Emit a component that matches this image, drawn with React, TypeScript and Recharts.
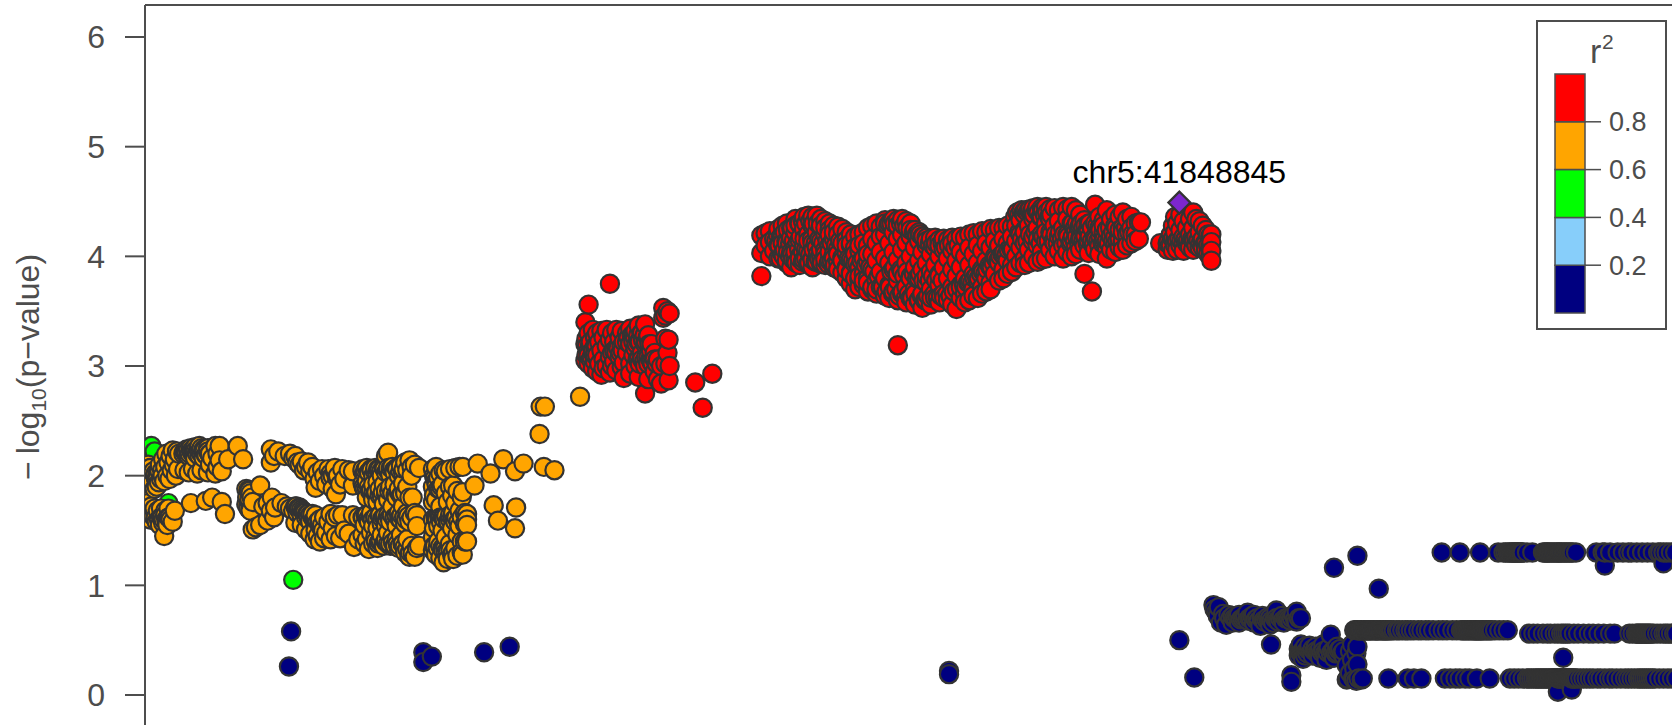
import { Bar, BarChart, Label, ReferenceLine, Scatter, ScatterChart, XAxis, YAxis } from "recharts";

// every row is [position, p, p, ...], position counted from the left edge of the frame
const greenRows = [
    [3, 2.2], [6, 2.27], [9, 2.22], [22, 1.75], [139, 1.05],
];

const orangeLeftRows = [
    [0, 1.95, 1.65], [1, 2.05, 1.72], [2, 1.9, 1.62], [3, 2.1, 1.75], [4, 2.0, 1.68], [5, 2.07, 1.6], [6, 1.92, 1.72], [8, 2.04, 1.63],
    [9, 1.88, 1.7], [10, 1.98, 1.62], [11, 1.9, 1.58], [12, 2.02, 1.68], [13, 1.94, 1.6], [14, 2.1, 1.55], [15, 1.97, 1.7], [16, 2.05, 1.62],
    [17, 2.15, 1.57], [18, 1.95, 1.45], [19, 2.08, 1.68], [20, 2.2, 1.6], [21, 2.0, 1.55], [22, 2.12, 1.7], [23, 1.97, 1.62], [24, 2.18, 1.6],
    [25, 2.05], [26, 2.23, 1.58], [27, 2.1], [28, 2.15, 1.68], [29, 2.0], [30, 2.22], [31, 2.06], [32, 2.2],
    [37, 2.22, 2.05], [39, 2.24, 2.2], [41, 2.18, 2.03], [43, 2.25, 1.75], [45, 2.2, 2.06], [47, 2.26, 2.16], [49, 2.21, 2.02],
    [51, 2.27, 2.18], [53, 2.2, 2.05], [55, 2.24, 2.16], [57, 2.19, 1.77], [59, 2.25, 2.03], [61, 2.2, 2.1], [63, 2.16, 1.8],
    [66, 2.27, 2.02], [68, 2.2, 2.08], [70, 2.27, 2.14], [72, 2.04, 1.76], [75, 1.65], [78, 2.15], [87, 2.27], [92, 2.15],
];

// tightly packed stretches, these are what makes the clusters read as dark
const orangeDenseRows = [
    [10, 2.02], [12, 1.98], [13.5, 2.04], [15, 1.62], [16.5, 2.0], [17.5, 1.6], [19, 1.64], [20.5, 1.58], [22, 1.62],
    [36, 2.2], [37.5, 2.22], [39, 2.21], [40.5, 2.23], [42, 2.2], [43.5, 2.22], [45, 2.24], [46, 2.21], [47.5, 2.23], [49, 2.2], [50, 2.24], [51.5, 2.22], [53, 2.25], [54.5, 2.21], [56, 2.23], [57.5, 2.19], [59, 2.22], [60.5, 2.2],
    [96, 1.8], [97, 1.74], [98, 1.86], [99, 1.7], [100, 1.8], [101, 1.76],
    [142, 1.72], [143.5, 1.7], [145, 1.71], [146.5, 1.69], [148, 1.68], [150, 1.66], [152, 1.65], [153.5, 1.62], [155, 1.64], [157, 1.62], [158.5, 1.6], [160, 1.61], [162, 1.58], [164, 1.56], [165.5, 1.52], [167, 1.5],
    [174, 2.02], [176, 2.0], [178, 2.04], [180, 1.98],
    [204, 2.04], [205, 1.9], [206.5, 2.05], [208, 1.88], [209.5, 2.03], [211, 1.86], [212.5, 2.05], [214, 1.84], [215.5, 2.04], [217, 1.85], [218.5, 2.06], [220, 1.82], [221.5, 2.04], [223, 1.85], [224.5, 2.06], [226, 1.83],
    [227.5, 2.05], [229, 1.86], [230.5, 2.07], [232, 1.84], [233.5, 2.05], [235, 1.82], [236.5, 2.06], [238, 1.85], [239.5, 2.04], [241, 1.83], [242.5, 2.06], [244, 1.85],
    [204.5, 1.62], [207, 1.64], [209, 1.6], [211.5, 1.63], [213.5, 1.6], [216, 1.62], [218, 1.6], [220.5, 1.64], [222.5, 1.61], [225, 1.63], [227, 1.6], [229.5, 1.62], [231.5, 1.64], [234, 1.6], [236, 1.63], [238.5, 1.61], [240.5, 1.64], [243, 1.62], [245, 1.6], [247, 1.63],
    [216.5, 1.4], [219, 1.38], [221, 1.41], [223.5, 1.37], [225.5, 1.4], [228, 1.38], [230, 1.36], [232.5, 1.39], [234.5, 1.36], [237, 1.38], [239, 1.36], [241.5, 1.38], [243.5, 1.35], [246, 1.33], [248.5, 1.3],
    [272, 1.98], [273.5, 1.92], [275, 1.98], [276.5, 1.88], [278, 1.9],
    [272.5, 1.62], [274, 1.6], [276, 1.63], [277.5, 1.58], [279, 1.62], [281, 1.6], [282.5, 1.63], [284.5, 1.58], [286, 1.6], [288, 1.63], [290, 1.6], [292, 1.62], [294, 1.58],
    [272, 1.36], [274.5, 1.34], [277, 1.36], [279.5, 1.32], [281.5, 1.34], [284, 1.3], [286.5, 1.32], [289, 1.3],
];

const orangeMidRows = [
    [95, 1.88, 1.74], [96, 1.8], [97, 1.87, 1.7], [98, 1.78], [99, 1.84, 1.68], [101, 1.51], [104, 1.53], [108, 1.91, 1.55], [111, 1.72], [115, 1.59, 1.75],
    [118, 2.24, 2.12, 1.68], [119, 1.8], [121, 2.18, 1.62], [122, 1.71], [125, 2.22], [128, 1.75], [131, 2.18], [133, 1.72], [136, 2.2, 1.7], [139, 2.16, 1.68],
    [141, 2.18, 1.72, 1.57], [143, 2.12, 1.66], [145, 2.1, 1.7], [147, 2.13, 1.63, 1.55], [149, 2.05, 1.67], [151, 2.08, 1.51, 1.62], [153, 2.12, 1.65],
    [155, 2.04, 1.58, 1.47], [157, 2.08, 1.65], [159, 1.97, 1.6, 1.42], [160, 1.89, 1.64, 1.5], [162, 2.03, 1.45], [164, 1.95, 1.6, 1.4], [166, 2.06, 1.55],
    [168, 2.0, 1.62, 1.43], [170, 1.92, 1.48], [172, 2.06, 1.58], [174, 1.98, 1.65, 1.42], [176, 1.88, 1.52], [178, 2.07, 1.62], [179, 1.83, 1.45],
    [181, 2.0, 1.64], [183, 1.92, 1.43], [185, 2.06, 1.64], [187, 1.97, 1.5], [191, 1.47, 2.05], [195, 1.91, 2.04, 1.64], [196, 1.35], [200, 1.62, 1.42],
];

const orangeBlobRows = [
    [204, 2.06, 1.93, 1.62, 1.46], [206, 2.02, 1.88, 1.55, 1.38], [208, 2.07, 1.95, 1.8, 1.64, 1.42], [210, 2.03, 1.9, 1.58, 1.33], [212, 2.06, 1.86, 1.66, 1.48],
    [214, 2.0, 1.92, 1.78, 1.54, 1.38], [216, 2.07, 1.84, 1.62, 1.44], [218, 2.02, 1.94, 1.76, 1.52, 1.34], [220, 2.06, 1.88, 1.64, 1.4], [222, 2.0, 1.82, 1.56, 1.46],
    [224, 2.08, 1.92, 1.74, 1.62, 1.36], [226, 2.18, 2.03, 1.86, 1.54, 1.42], [228, 2.21, 2.07, 1.78, 1.64, 1.48], [230, 2.01, 1.9, 1.58, 1.38], [232, 2.08, 1.84, 1.72, 1.44],
    [234, 2.03, 1.92, 1.62, 1.36], [236, 2.07, 1.8, 1.54, 1.42], [238, 2.0, 1.88, 1.66, 1.34], [240, 2.09, 1.82, 1.6, 1.46], [242, 2.03, 1.93, 1.72, 1.38],
    [244, 2.12, 1.84, 1.56, 1.3], [246, 2.05, 1.9, 1.66, 1.42], [248, 2.14, 1.8, 1.58, 1.26], [250, 2.08, 2.0, 1.62, 1.36], [251, 1.8, 1.29],
    [253, 2.1, 1.66, 1.26], [255, 1.64, 1.54, 1.34], [257, 2.07, 1.36],
];

const orangeRightRows = [
    [270, 2.06, 1.9, 1.76, 1.6, 1.44, 1.32], [271, 2.0, 1.82, 1.52, 1.36], [273, 2.08, 1.95, 1.78, 1.61, 1.28], [275, 1.88, 1.54, 1.4], [277, 2.02, 1.72, 1.62, 1.25],
    [279, 1.92, 1.5, 1.34], [280, 2.05, 1.62, 1.21], [282, 2.04, 1.84, 1.44, 1.3], [284, 1.76, 1.58, 1.24], [286, 2.06, 1.9, 1.64, 1.38], [288, 1.82, 1.52, 1.28],
    [289, 1.91, 1.66, 1.24], [291, 2.07, 1.75, 1.58, 1.34], [293, 1.86, 1.46, 1.27], [295, 2.08, 1.68, 1.54], [297, 1.8, 1.62, 1.4, 1.3], [298, 2.08, 1.85, 1.28],
    [300, 1.66, 1.56, 1.4], [302, 1.65, 1.6, 1.55, 1.4], [309, 1.91],
    [312, 2.11], [324, 2.02], [327, 1.73], [331, 1.59], [336, 2.15], [347, 2.04, 1.52], [348, 1.71], [355, 2.11],
    [370, 2.38], [371, 2.63], [374, 2.08], [375, 2.63], [384, 2.05], [408, 2.72],
];

const redMiddleRows = [
    [413, 3.4, 3.2, 3.05], [414, 3.25, 3.1], [416, 3.56, 3.3, 3.14, 3.02], [418, 3.22, 3.06], [420, 3.33, 3.12, 2.98], [422, 3.26, 3.18, 3.04],
    [424, 3.3, 3.1, 2.95], [426, 3.22, 3.02], [428, 3.32, 3.14, 2.92], [430, 3.26, 3.06, 2.98], [433, 3.33, 3.18, 3.0], [436, 3.75, 3.24, 3.08, 2.94],
    [438, 3.3, 3.12, 3.0], [440, 3.22, 3.04], [442, 3.33, 3.16, 2.96], [445, 3.26, 3.08], [447, 3.32, 3.18, 2.99], [449, 3.22, 3.03, 2.89],
    [452, 3.3, 3.12], [455, 3.34, 3.2, 3.02, 2.93], [458, 3.28, 3.1], [460, 3.32, 3.16, 3.0], [463, 3.37, 3.22, 3.06, 2.9], [466, 3.3, 3.12],
    [469, 3.38, 3.2, 3.0, 2.75], [472, 3.28, 3.08, 2.88], [475, 3.2, 3.04], [478, 3.12, 2.95], [481, 3.06, 2.88], [484, 3.0, 2.84],
    [486, 3.53, 3.44], [488, 3.25, 3.46, 3.02], [490, 3.5, 3.12], [491, 3.24, 2.87], [492, 3.48, 3.0], [516, 2.85], [523, 2.62], [532, 2.93],
];

const redMiddleDenseRows = [
    [414.5, 3.18], [416, 3.1], [417.5, 3.2], [419, 3.08], [420.5, 3.15], [422, 3.1], [423.5, 3.18],
    [440, 3.14], [442, 3.12], [444, 3.16], [446, 3.12], [448, 3.14],
    [452, 3.22], [453.5, 3.26], [455, 3.2], [456.5, 3.28], [458, 3.22], [459.5, 3.26], [461, 3.2], [462.5, 3.28], [464, 3.22], [465.5, 3.3], [467, 3.24], [468.5, 3.28], [470, 3.22], [471.5, 3.26], [473, 3.2], [474.5, 3.14],
    [462, 3.06], [464, 3.02], [466, 3.06], [468, 3.04], [470, 3.08], [472, 3.02], [474, 3.06], [476, 3.02], [478, 3.06], [480, 3.02],
];

const redMainRows = [
    [578, 4.19, 4.03, 3.82], [582, 4.21, 4.1], [586, 4.23, 4.13, 4.0], [590, 4.16, 4.05], [594, 4.25, 4.1, 3.98], [598, 4.28, 4.19, 4.02], [602, 4.3, 4.12, 3.94],
    [606, 4.26, 4.17, 4.04, 3.9], [610, 4.34, 4.22, 4.08, 3.96], [614, 4.3, 4.15, 4.0, 3.92], [618, 4.36, 4.25, 4.1, 3.97], [622, 4.37, 4.2, 4.05, 3.93],
    [626, 4.36, 4.28, 4.12, 3.98, 3.9], [630, 4.37, 4.22, 4.08, 3.95], [634, 4.34, 4.27, 4.14, 4.0, 3.93], [638, 4.32, 4.2, 4.06, 3.92], [642, 4.3, 4.24, 4.1, 3.96],
    [646, 4.28, 4.16, 4.02, 3.9], [650, 4.27, 4.2, 4.07, 3.95, 3.88], [654, 4.25, 4.12, 3.99, 3.85], [658, 4.22, 4.15, 4.03, 3.9, 3.8], [662, 4.2, 4.1, 3.97, 3.85, 3.75],
    [666, 4.18, 4.08, 3.93, 3.8, 3.7], [670, 4.2, 4.05, 3.9, 3.78, 3.72], [674, 4.22, 4.12, 3.98, 3.84, 3.74], [678, 4.26, 4.1, 3.95, 3.8, 3.68], [682, 4.28, 4.16, 4.02, 3.88, 3.7],
    [686, 4.3, 4.12, 3.96, 3.78, 3.66], [690, 4.27, 4.18, 4.04, 3.86, 3.72], [694, 4.33, 4.2, 3.98, 3.8, 3.64], [698, 4.3, 4.12, 3.94, 3.74, 3.62], [702, 4.34, 4.22, 4.04, 3.88, 3.68],
    [706, 4.33, 4.16, 3.97, 3.78, 3.6, 3.19], [710, 4.34, 4.2, 4.06, 3.86, 3.66], [714, 4.32, 4.12, 3.94, 3.72, 3.58], [718, 4.3, 4.18, 4.0, 3.82, 3.62], [722, 4.24, 4.08, 3.9, 3.7, 3.56],
    [726, 4.22, 4.14, 3.96, 3.8, 3.6], [729, 4.18, 4.04, 3.88, 3.66, 3.53], [733, 4.17, 4.1, 3.94, 3.76, 3.6], [737, 4.16, 4.02, 3.86, 3.7, 3.56], [741, 4.17, 4.08, 3.92, 3.62],
    [745, 4.15, 4.0, 3.84, 3.74, 3.58], [749, 4.16, 4.06, 3.9, 3.66], [753, 4.15, 3.98, 3.8, 3.6], [757, 4.17, 4.05, 3.88, 3.72, 3.56], [761, 4.16, 3.96, 3.82, 3.52],
    [765, 4.18, 4.04, 3.9, 3.74, 3.62], [769, 4.17, 4.0, 3.8, 3.66, 3.58], [773, 4.2, 4.08, 3.92, 3.76, 3.6], [777, 4.21, 4.02, 3.84, 3.7, 3.64], [781, 4.2, 4.1, 3.94, 3.78, 3.62],
    [785, 4.23, 4.05, 3.88, 3.72, 3.66], [789, 4.22, 4.12, 3.96, 3.8, 3.68], [793, 4.25, 4.08, 3.9, 3.76, 3.7], [797, 4.24, 4.14, 4.0, 3.84], [801, 4.26, 4.1, 3.94, 3.78],
    [805, 4.26, 4.16, 4.02, 3.88, 3.8], [809, 4.28, 4.12, 3.96, 3.84], [813, 4.27, 4.18, 4.06, 3.92, 3.86], [817, 4.28, 4.14, 4.0, 3.9], [821, 4.33, 4.2, 4.08, 3.94],
    [825, 4.38, 4.24, 4.12, 3.98, 3.92], [829, 4.42, 4.28, 4.06, 3.94], [833, 4.44, 4.34, 4.18, 4.0], [837, 4.45, 4.26, 4.1, 3.95], [841, 4.44, 4.36, 4.2, 4.04, 3.97],
    [845, 4.45, 4.3, 4.14, 3.98], [849, 4.43, 4.34, 4.22, 4.06], [853, 4.44, 4.28, 4.12, 4.0], [857, 4.42, 4.32, 4.18, 4.05], [861, 4.45, 4.26, 4.1, 3.98],
    [865, 4.43, 4.34, 4.2, 4.04], [869, 4.45, 4.3, 4.14, 4.0], [873, 4.42, 4.22, 4.08, 4.02], [877, 4.38, 4.28, 4.16, 4.06], [881, 4.33, 4.2, 4.1, 3.84],
    [885, 4.3, 4.24, 4.14, 4.03], [888, 4.26, 4.12, 3.68], [891, 4.47, 4.3, 4.18, 4.06], [895, 4.36, 4.26, 4.1, 4.02], [899, 4.33, 4.22, 4.14], [902, 4.42, 4.24, 4.08, 3.98],
    [906, 4.34, 4.18, 4.06], [910, 4.38, 4.28, 4.12, 4.04], [914, 4.36, 4.2, 4.08], [917, 4.4, 4.26, 4.14, 4.06], [921, 4.34, 4.2, 4.1], [925, 4.36, 4.26, 4.12],
    [929, 4.3, 4.2, 4.14], [932, 4.31, 4.16], [934, 4.31],
];

const redMainDenseRows = [
    [592, 4.14], [593.5, 4.2], [595, 4.1], [596.5, 4.18], [598, 4.12], [600, 4.22, 4.06], [601.5, 4.14], [603, 4.24, 4.04], [605, 4.12], [607, 4.26, 4.02], [608.5, 4.14], [610, 4.28, 4.04], [612, 4.12],
    [613.5, 4.3, 4.06], [615, 4.18], [617, 4.32, 4.04], [618.5, 4.16], [620, 4.3, 4.06], [622, 4.14], [624, 4.32, 4.02], [625.5, 4.16], [627, 4.3, 4.06], [629, 4.12], [631, 4.3, 4.02], [632.5, 4.16],
    [634, 4.28, 4.06], [636, 4.12], [638, 4.26, 4.02], [640, 4.14], [642, 4.2, 4.04], [644, 4.12], [646, 4.22, 3.98], [648, 4.1], [650, 4.02], [652, 4.14], [654, 3.96],
    [658, 4.1, 3.88], [660, 3.98], [662, 4.12, 3.84], [664, 3.96], [666, 4.02, 3.8], [668, 3.94], [670, 4.1, 3.82], [672, 3.96], [674, 3.78], [676, 3.92], [678, 4.02, 3.76], [680, 3.9], [682, 3.72], [684, 3.86], [686, 3.7], [688, 3.82],
    [692, 3.72], [694, 4.3], [695.5, 3.68], [697, 4.28], [698.5, 3.72], [700, 4.3], [701.5, 3.66], [703, 4.3], [704.5, 3.7], [706, 4.28], [707.5, 3.64], [709, 4.3], [710.5, 3.68], [712, 4.28], [713.5, 3.62], [715, 4.26], [716.5, 3.66], [718, 4.24], [719.5, 3.62], [721, 4.22], [722.5, 3.66], [724, 4.2], [725.5, 3.6], [727, 4.2], [728.5, 3.64], [730, 4.18], [731.5, 3.6],
    [733, 4.14], [734.5, 3.64], [736, 4.12], [737.5, 3.62], [739, 4.1], [740.5, 3.66], [742, 4.12], [743.5, 3.62], [745, 4.1], [746.5, 3.64], [748, 4.12], [749.5, 3.62], [751, 4.08], [752.5, 3.66], [754, 4.1], [755.5, 3.64], [757, 4.12], [758.5, 3.68], [760, 4.08], [761.5, 3.7], [763, 4.1], [765, 3.72],
    [768, 3.74], [770, 3.72], [772, 3.76], [774, 3.78], [776, 3.76], [778, 3.8], [780, 3.82], [782, 3.8], [784, 3.84], [786, 3.86], [788, 3.84], [790, 3.88], [792, 3.92], [794, 3.9], [796, 3.94], [798, 3.98], [800, 3.96], [802, 4.0], [804, 4.02], [806, 4.04], [808, 4.02], [810, 4.06], [812, 4.08], [814, 4.06],
    [816, 4.36], [818, 4.4], [820, 4.38], [822, 4.42], [824, 4.4], [826, 4.42], [828, 4.4], [830, 4.43], [832, 4.41], [834, 4.38], [836, 4.42], [838, 4.4], [840, 4.36], [842, 4.42], [844, 4.38], [846, 4.4], [848, 4.36], [850, 4.38],
    [852, 4.14], [854, 4.2], [856, 4.12], [858, 4.22], [860, 4.16], [862, 4.2], [864, 4.12], [866, 4.18], [868, 4.12], [870, 4.18], [872, 4.14], [874, 4.18], [876, 4.12], [878, 4.16], [880, 4.14], [882, 4.18], [884, 4.12], [886, 4.18], [888, 4.14], [890, 4.12], [892, 4.16], [894, 4.14], [896, 4.18], [898, 4.12], [900, 4.16], [902, 4.14], [904, 4.12], [906, 4.18], [908, 4.14], [910, 4.18], [912, 4.14], [914, 4.16],
    [960, 4.14], [962, 4.12], [964, 4.16], [966, 4.14], [968, 4.12], [970, 4.16], [972, 4.14], [974, 4.12], [976, 4.16], [978, 4.14], [980, 4.12], [982, 4.16], [984, 4.14], [986, 4.12], [988, 4.15], [990, 4.12], [992, 4.14], [994, 4.12],
];

// second pass over the parts of the ridge that are still too red
const redRidgeRows = [
    [596, 3.98], [599, 4.0], [602, 3.96], [605, 4.0], [608, 3.97], [611, 3.94], [614, 3.98], [617, 3.95], [620, 3.98], [623, 3.94], [626, 3.97], [629, 3.95], [632, 3.98], [635, 3.94], [638, 3.97], [641, 3.93], [644, 3.96], [647, 3.92],
    [700, 3.86], [703, 3.9], [706, 3.84], [709, 3.88], [712, 3.82], [715, 3.86], [718, 3.8], [721, 3.84], [724, 3.8], [727, 3.84], [730, 3.78], [733, 3.82], [736, 3.78], [739, 3.82], [742, 3.78], [745, 3.82], [748, 3.78],
    [820, 4.22], [822.5, 4.16], [825, 4.22], [827.5, 4.14], [830, 4.2], [832.5, 4.14], [835, 4.22], [837.5, 4.16], [840, 4.12], [842.5, 4.18], [845, 4.22], [847.5, 4.14], [850, 4.2],
    [870, 4.3], [872, 4.26], [874, 4.3], [876, 4.26], [878, 4.3], [880, 4.26], [882, 4.28], [884, 4.24], [886, 4.3], [888, 4.26], [893, 4.28], [896, 4.24], [899, 4.28], [902, 4.24], [905, 4.26], [908, 4.22], [911, 4.26], [914, 4.24], [917, 4.22], [920, 4.26], [923, 4.22], [926, 4.2],
];

const redPeakRows = [
    [952, 4.12], [959, 4.06, 4.12], [962, 4.2, 4.1], [964, 4.28, 4.16, 4.05], [966, 4.36, 4.22, 4.1], [968, 4.3, 4.14, 4.06], [971, 4.38, 4.24, 4.1],
    [974, 4.32, 4.18, 4.05], [977, 4.26, 4.12], [980, 4.34, 4.2, 4.08], [983, 4.4, 4.26, 4.14, 4.06], [986, 4.34, 4.18, 4.1], [989, 4.32, 4.22, 4.08],
    [992, 4.28, 4.16, 4.08], [995, 4.24, 4.12, 4.06], [997, 4.2, 4.1, 4.02], [999, 4.18, 4.08, 4.0], [1000, 4.2, 4.13, 4.05, 3.96],
];

const leadPoint = [{ pos: 970, p: 4.49, name: "chr5:41848845" }];

const navyIsolatedRows = [
    [135, 0.26], [137, 0.58], [261, 0.39, 0.3], [269, 0.35], [318, 0.39], [342, 0.44], [754, 0.22, 0.19], [970, 0.5], [984, 0.16],
    [1056, 0.46], [1075, 0.18, 0.12], [1115, 1.16], [1137, 1.27], [1157, 0.97], [1330, 0.34], [1325, 0.03], [1338, 0.05], [1369, 1.18], [1424, 1.2],
];

const navyUpperClusterRows = [
    [1002, 0.82], [1003, 0.78], [1005, 0.76], [1006, 0.72], [1007, 0.8], [1009, 0.66], [1011, 0.74], [1012, 0.7], [1014, 0.64], [1016, 0.73], [1018, 0.7],
    [1020, 0.66, 0.72], [1021.5, 0.7], [1023, 0.7], [1024.5, 0.72], [1026, 0.73, 0.66], [1027.5, 0.69], [1029, 0.7], [1030.5, 0.71], [1032, 0.72], [1034, 0.75, 0.68], [1035.5, 0.7], [1037, 0.7], [1038.5, 0.72], [1040, 0.66, 0.73], [1041.5, 0.69], [1043, 0.7], [1044.5, 0.68], [1046, 0.63],
    [1047, 0.7], [1048, 0.72], [1049, 0.68], [1050, 0.67], [1051.5, 0.69], [1053, 0.71], [1054, 0.68], [1055, 0.64, 0.7], [1056.5, 0.68], [1058, 0.66], [1059.5, 0.7], [1061, 0.77, 0.7], [1062, 0.68], [1063, 0.67], [1064.5, 0.7], [1066, 0.72], [1067, 0.68], [1068, 0.66], [1069.5, 0.7], [1071, 0.7], [1072.5, 0.69], [1074, 0.68], [1075.5, 0.7],
    [1077, 0.73], [1078.5, 0.69], [1080, 0.76, 0.67], [1082, 0.7], [1084, 0.7],
];

const navyLowerClusterRows = [
    [1082, 0.42, 0.36], [1083, 0.39], [1084, 0.46, 0.38], [1085, 0.4], [1086, 0.4, 0.33], [1087, 0.38], [1088, 0.44, 0.36], [1089, 0.4], [1090, 0.38], [1091, 0.41], [1092, 0.41, 0.45], [1093.5, 0.39], [1095, 0.36, 0.42], [1096.5, 0.4], [1098, 0.44, 0.4], [1099, 0.38], [1100, 0.38],
    [1101, 0.4], [1102, 0.42, 0.34], [1103.5, 0.39], [1105, 0.46, 0.4], [1106.5, 0.38], [1108, 0.4, 0.32], [1109, 0.39], [1110, 0.43], [1112, 0.55, 0.38], [1113.5, 0.4], [1115, 0.41, 0.34], [1116.5, 0.38], [1118, 0.39, 0.44], [1119.5, 0.41], [1121, 0.42], [1122.5, 0.38], [1124, 0.36, 0.4],
    [1127, 0.27, 0.14], [1130, 0.4, 0.2], [1132, 0.46, 0.32], [1134, 0.24, 0.14], [1136, 0.38, 0.13], [1137, 0.44, 0.28], [1141, 0.14],
];

// three long rows on the right side of the frame
const navyTopPos = [
    1216, 1233, 1252, 1269, 1274, 1276, 1278, 1279.5, 1281, 1282, 1283, 1284, 1285, 1286, 1287, 1288, 1289, 1290, 1291, 1292, 1296, 1301, 1311, 1312.5, 1314, 1315, 1316, 1317.5, 1319, 1320.5, 1322, 1323.5, 1325, 1326, 1327, 1328.5, 1330, 1331.5, 1333, 1334.5, 1336, 1337.5, 1339, 1342,
    1361, 1367, 1369, 1374, 1381, 1386, 1391, 1394, 1399, 1404, 1409, 1414, 1419, 1421, 1424, 1427, 1431, 1435,
];
const navyMidLeftPos = [
    1134, 1135.5, 1137, 1138, 1139, 1140, 1141, 1142.5, 1144, 1145, 1146, 1147, 1148, 1149, 1150, 1151.5, 1153, 1154, 1155, 1156, 1157, 1158.5, 1160, 1161, 1162, 1163, 1164, 1165, 1166, 1167.5, 1169, 1171, 1174, 1176, 1179, 1182, 1184, 1187, 1190, 1194,
    1197, 1201, 1204, 1208, 1213, 1217, 1221, 1226, 1230, 1234, 1235.5, 1237, 1238.5, 1240, 1241.5, 1243, 1244.5, 1246, 1247, 1248, 1249, 1250, 1251, 1252, 1253, 1254, 1255.5, 1257, 1258.5, 1260, 1261.5, 1263, 1266, 1270, 1274, 1278,
];
const navyMidRightPos = [
    1298, 1302, 1306, 1311, 1315, 1318, 1322, 1325, 1328, 1330, 1332, 1334, 1336, 1340, 1344, 1349, 1354, 1358, 1363, 1368, 1374, 1378,
    1392, 1395, 1398, 1399, 1400, 1401, 1402, 1403, 1404, 1405, 1406, 1407, 1408, 1409, 1410, 1411, 1412, 1413.5, 1415, 1418, 1421, 1424, 1426, 1428, 1431, 1434, 1436,
];
const navyBottomPos = [
    1128, 1133, 1138, 1142, 1166, 1184, 1190, 1197, 1219, 1224, 1229, 1233, 1238, 1242, 1249, 1261,
    1280, 1284, 1288, 1292, 1296, 1298, 1300, 1302, 1304, 1305.5, 1307, 1308.5, 1310, 1311.5, 1313, 1314.5, 1316, 1317.5, 1319, 1320, 1321, 1322, 1323, 1324, 1325, 1326, 1327, 1328, 1329, 1330, 1331, 1332, 1333, 1334, 1335, 1336, 1337, 1338, 1339, 1340, 1341.5, 1343,
    1346, 1349, 1352, 1355, 1358, 1362, 1365, 1369, 1373, 1376, 1380, 1384, 1388, 1391, 1394, 1397, 1400, 1402, 1404, 1406, 1408, 1410, 1412, 1414, 1416, 1420, 1424, 1428, 1432, 1436,
];
const navyTopLevel = 1.3;
const navyMidLeftLevel = 0.59;
const navyMidRightLevel = 0.56;
const navyBottomLevel = 0.15;

const colorBarValues = [{ name: "r2", a: 0.2, b: 0.2, c: 0.2, d: 0.2, e: 0.2 }];
const colorBarKeys = ["a", "b", "c", "d", "e"];
const colorBarColors = ["#000080", "#87CEFA", "#00FF00", "#FFA500", "#FF0000"];
const colorBarTicks = [0.2, 0.4, 0.6, 0.8];
const yTicks = [0, 1, 2, 3, 4, 5, 6];

const FONT = "'Liberation Sans', Arial, sans-serif";
const AXIS_GREY = "#4d4d4d";

const fromRows = (rows: number[][]) =>
    rows
        .flatMap(([pos, ...ps]) => ps.map((p) => ({ pos, p })))
        .sort((a, b) => a.pos - b.pos);
const fromLevel = (positions: number[], p: number) => positions.map((pos) => ({ pos, p }));

const greenPoints = fromRows(greenRows);
const orangePoints = fromRows([...orangeLeftRows, ...orangeDenseRows, ...orangeMidRows, ...orangeBlobRows, ...orangeRightRows]);
const redPoints = fromRows([...redMiddleRows, ...redMiddleDenseRows, ...redMainRows, ...redMainDenseRows, ...redRidgeRows, ...redPeakRows]);
const navyPoints = [
    ...fromRows([...navyIsolatedRows, ...navyUpperClusterRows, ...navyLowerClusterRows]),
    ...fromLevel(navyTopPos, navyTopLevel),
    ...fromLevel(navyMidLeftPos, navyMidLeftLevel),
    ...fromLevel(navyMidRightPos, navyMidRightLevel),
    ...fromLevel(navyBottomPos, navyBottomLevel),
].sort((a, b) => a.pos - b.pos);

const dot = (fill: string) => (props: any) => (
    <circle cx={props.cx} cy={props.cy} r={9.1} fill={fill} stroke="#333333" strokeWidth={2.2} />
);

const leadShape = (props: any) => {
    const { cx, cy } = props;
    return (
        <g>
            <polygon
                points={`${cx - 11},${cy} ${cx},${cy - 11} ${cx + 11},${cy} ${cx},${cy + 11}`}
                fill="#7D26CD"
                stroke="#333333"
                strokeWidth={2.2}
            />
            <text x={cx} y={cy - 20} textAnchor="middle" fontSize={32} fontFamily={FONT} fill="#000000">
                {leadPoint[0].name}
            </text>
        </g>
    );
};

const yTitle = () => (
    <text
        transform="translate(39,480) rotate(-90)"
        fontSize={32}
        fontFamily={FONT}
        fill={AXIS_GREY}
    >
        −<tspan dx={7}>log</tspan>
        <tspan fontSize={21} dy={7}>10</tspan>
        <tspan dy={-7}>(p−value)</tspan>
    </text>
);

const App = () => {
    return (
        <div style={{ position: "absolute", left: 0, top: 0, width: 1672, height: 725, overflow: "hidden", background: "#fff", fontFamily: FONT }}>
            <ScatterChart width={1672} height={725} margin={{ top: 5, right: 0, bottom: 0, left: 0 }}>
                <XAxis type="number" dataKey="pos" domain={[0, 1432]} hide allowDataOverflow />
                <YAxis
                    type="number"
                    dataKey="p"
                    width={145}
                    domain={[-0.2735, 6.292]}
                    ticks={yTicks}
                    allowDataOverflow
                    interval={0}
                    tickSize={20}
                    tickMargin={20}
                    axisLine={{ stroke: AXIS_GREY, strokeWidth: 2 }}
                    tickLine={{ stroke: AXIS_GREY, strokeWidth: 2 }}
                    tick={{ fill: AXIS_GREY, fontSize: 32, fontFamily: FONT }}
                >
                    <Label content={yTitle} />
                </YAxis>
                <ReferenceLine y={6.292} stroke={AXIS_GREY} strokeWidth={2} />
                <Scatter data={greenPoints} shape={dot("#00FF00")} isAnimationActive={false} />
                <Scatter data={orangePoints} shape={dot("#FFA500")} isAnimationActive={false} />
                <Scatter data={navyPoints} shape={dot("#000080")} isAnimationActive={false} />
                <Scatter data={redPoints} shape={dot("#FF0000")} isAnimationActive={false} />
                <Scatter data={leadPoint} shape={leadShape} isAnimationActive={false} />
            </ScatterChart>

            <div style={{ position: "absolute", left: 1536, top: 20, width: 127, height: 306, border: `2px solid ${AXIS_GREY}`, background: "#fff" }} />
            <div style={{ position: "absolute", left: 1590, top: 31, color: AXIS_GREY, fontSize: 34, lineHeight: "40px" }}>
                r<span style={{ position: "absolute", left: 12, top: -9, fontSize: 21 }}>2</span>
            </div>
            <div style={{ position: "absolute", left: 1537, top: 60 }}>
                <BarChart
                    width={128}
                    height={270}
                    data={colorBarValues}
                    barCategoryGap={0}
                    margin={{ top: 14, right: 0, bottom: 17, left: 18 }}
                >
                    <XAxis dataKey="name" hide />
                    <YAxis
                        orientation="right"
                        width={80}
                        domain={[0, 1]}
                        ticks={colorBarTicks}
                        interval={0}
                        tickSize={16}
                        tickMargin={8}
                        axisLine={false}
                        tickLine={{ stroke: AXIS_GREY, strokeWidth: 1.5 }}
                        tick={{ fill: AXIS_GREY, fontSize: 27, fontFamily: FONT }}
                    />
                    {colorBarKeys.map((key, idx) => (
                        <Bar
                            key={key}
                            dataKey={key}
                            stackId="bar"
                            fill={colorBarColors[idx]}
                            stroke={AXIS_GREY}
                            strokeWidth={1.5}
                            isAnimationActive={false}
                        />
                    ))}
                </BarChart>
            </div>
        </div>
    );
};

export default App;
